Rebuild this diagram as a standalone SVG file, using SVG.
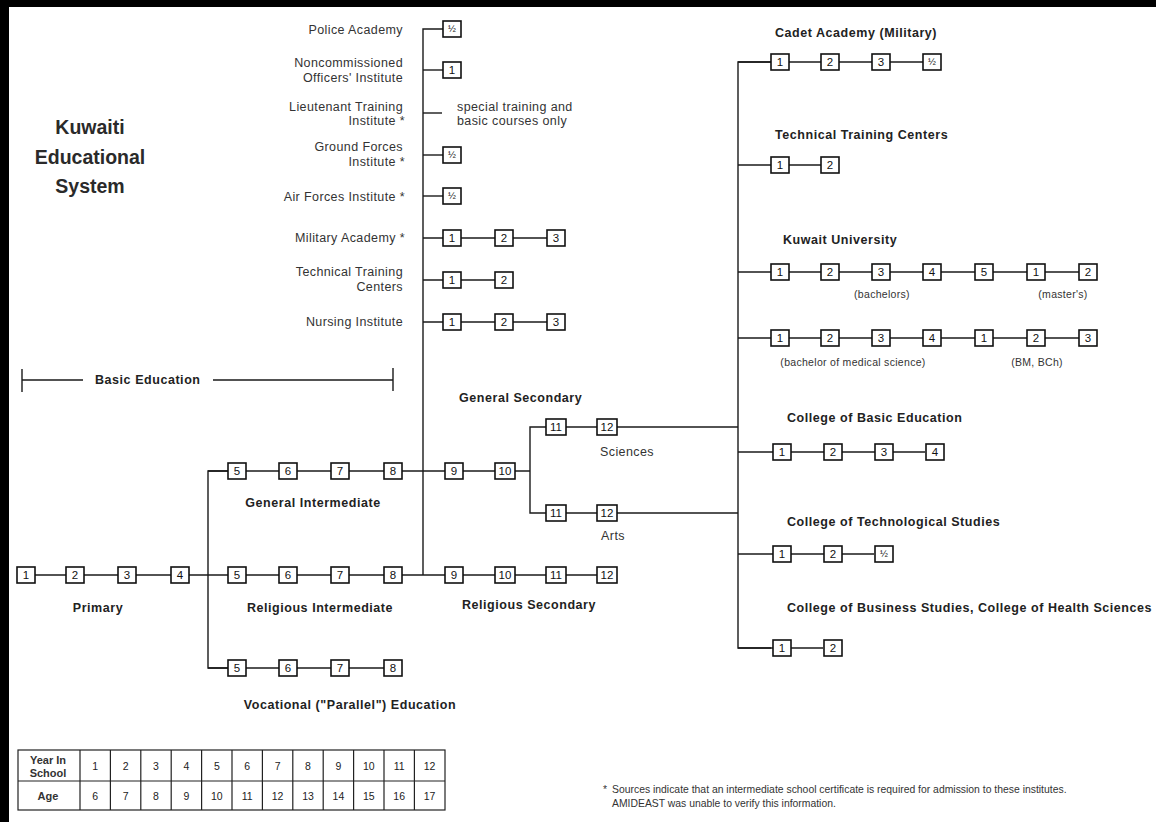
<svg xmlns="http://www.w3.org/2000/svg" width="1156" height="822" viewBox="0 0 1156 822">
<style>
.bg{fill:#fff}
.frame{fill:#000}
.ln{stroke:#1a1a1a;stroke-width:1.4;fill:none}
.box rect{fill:#fff;stroke:#111;stroke-width:1.6}
.box text{font-family:"Liberation Sans",Arial,sans-serif;font-size:11.5px;fill:#111;text-anchor:middle}
.box text.h{font-size:9.5px}
.lbl{font-family:"Liberation Sans",Arial,sans-serif;font-size:12.5px;fill:#333;letter-spacing:0.4px}
.r{text-anchor:end}
.c{text-anchor:middle}
.bl{font-family:"Liberation Sans",Arial,sans-serif;font-size:12.5px;font-weight:bold;fill:#222;letter-spacing:0.55px}
.sm{font-family:"Liberation Sans",Arial,sans-serif;font-size:10.5px;fill:#333;letter-spacing:0.3px}
.title{font-family:"Liberation Sans",Arial,sans-serif;font-size:19.5px;font-weight:bold;fill:#2a2a2a;text-anchor:middle}
.tb{stroke:#222;stroke-width:1.2;fill:none}
.tt{font-family:"Liberation Sans",Arial,sans-serif;font-size:10.5px;fill:#222;text-anchor:middle}
.tth{font-family:"Liberation Sans",Arial,sans-serif;font-size:11px;font-weight:bold;fill:#333;text-anchor:middle}
.fn{font-family:"Liberation Sans",Arial,sans-serif;font-size:10.4px;fill:#333}
</style>
<rect class="bg" x="0" y="0" width="1156" height="822"/>
<rect class="frame" x="0" y="0" width="1156" height="7"/>
<rect class="frame" x="0" y="0" width="9" height="822"/>

<g id="title">
<text class="title" x="90" y="134">Kuwaiti</text>
<text class="title" x="90" y="164">Educational</text>
<text class="title" x="90" y="193">System</text>
</g>

<g id="connectors">
<path class="ln" d="M35,575 H597"/>
<path class="ln" d="M228,471 H208 V668 H228"/>
<path class="ln" d="M208,471 H530"/>
<path class="ln" d="M208,668 H384"/>
<path class="ln" d="M443,29 H423 V575"/>
<path class="ln" d="M423,70 H443"/>
<path class="ln" d="M423,113 H442"/>
<path class="ln" d="M423,155 H443"/>
<path class="ln" d="M423,196 H443"/>
<path class="ln" d="M423,238 H547"/>
<path class="ln" d="M423,280 H495"/>
<path class="ln" d="M423,322 H547"/>
<path class="ln" d="M546,427 H530 V513 H546"/>
<path class="ln" d="M546,427 H738"/>
<path class="ln" d="M546,513 H738"/>
<path class="ln" d="M771,62 H738 V648 H771"/>
<path class="ln" d="M738,62 H923"/>
<path class="ln" d="M738,165 H821"/>
<path class="ln" d="M738,272 H1079"/>
<path class="ln" d="M738,338 H1079"/>
<path class="ln" d="M738,452 H925"/>
<path class="ln" d="M738,554 H874"/>
<path class="ln" d="M738,648 H823"/>
<path class="ln" d="M22,380 H83 M213,380 H393 M22,369 V392 M393,368 V391"/>
</g>

<g id="basic-education"><text class="bl" x="95" y="384">Basic Education</text></g>

<!-- Primary -->
<g id="primary-1" class="box"><rect x="17" y="567" width="18" height="16"/><text x="26" y="579">1</text></g>
<g id="primary-2" class="box"><rect x="66" y="567" width="18" height="16"/><text x="75" y="579">2</text></g>
<g id="primary-3" class="box"><rect x="118" y="567" width="18" height="16"/><text x="127" y="579">3</text></g>
<g id="primary-4" class="box"><rect x="171" y="567" width="18" height="16"/><text x="180" y="579">4</text></g>
<g id="primary-label"><text class="bl c" x="98" y="612">Primary</text></g>

<!-- General Intermediate -->
<g id="genint-5" class="box"><rect x="228" y="463" width="18" height="16"/><text x="237" y="475">5</text></g>
<g id="genint-6" class="box"><rect x="279" y="463" width="18" height="16"/><text x="288" y="475">6</text></g>
<g id="genint-7" class="box"><rect x="331" y="463" width="18" height="16"/><text x="340" y="475">7</text></g>
<g id="genint-8" class="box"><rect x="384" y="463" width="18" height="16"/><text x="393" y="475">8</text></g>
<g id="genint-label"><text class="bl c" x="313" y="507">General Intermediate</text></g>

<!-- Religious Intermediate -->
<g id="relint-5" class="box"><rect x="228" y="567" width="18" height="16"/><text x="237" y="579">5</text></g>
<g id="relint-6" class="box"><rect x="279" y="567" width="18" height="16"/><text x="288" y="579">6</text></g>
<g id="relint-7" class="box"><rect x="331" y="567" width="18" height="16"/><text x="340" y="579">7</text></g>
<g id="relint-8" class="box"><rect x="384" y="567" width="18" height="16"/><text x="393" y="579">8</text></g>
<g id="relint-label"><text class="bl c" x="320" y="612">Religious Intermediate</text></g>

<!-- Vocational -->
<g id="voc-5" class="box"><rect x="228" y="660" width="18" height="16"/><text x="237" y="672">5</text></g>
<g id="voc-6" class="box"><rect x="279" y="660" width="18" height="16"/><text x="288" y="672">6</text></g>
<g id="voc-7" class="box"><rect x="331" y="660" width="18" height="16"/><text x="340" y="672">7</text></g>
<g id="voc-8" class="box"><rect x="384" y="660" width="18" height="16"/><text x="393" y="672">8</text></g>
<g id="voc-label"><text class="bl c" x="350" y="709">Vocational ("Parallel") Education</text></g>

<!-- General Secondary -->
<g id="gensec-label"><text class="bl" x="459" y="402">General Secondary</text></g>
<g id="gensec-9" class="box"><rect x="445" y="463" width="18" height="16"/><text x="454" y="475">9</text></g>
<g id="gensec-10" class="box"><rect x="495" y="463" width="20" height="16"/><text x="505" y="475">10</text></g>
<g id="sci-11" class="box"><rect x="546" y="419" width="20" height="16"/><text x="556" y="431">11</text></g>
<g id="sci-12" class="box"><rect x="597" y="419" width="20" height="16"/><text x="607" y="431">12</text></g>
<g id="sci-label"><text class="lbl c" x="627" y="456">Sciences</text></g>
<g id="arts-11" class="box"><rect x="546" y="505" width="20" height="16"/><text x="556" y="517">11</text></g>
<g id="arts-12" class="box"><rect x="597" y="505" width="20" height="16"/><text x="607" y="517">12</text></g>
<g id="arts-label"><text class="lbl c" x="613" y="540">Arts</text></g>

<!-- Religious Secondary -->
<g id="relsec-9" class="box"><rect x="445" y="567" width="18" height="16"/><text x="454" y="579">9</text></g>
<g id="relsec-10" class="box"><rect x="495" y="567" width="20" height="16"/><text x="505" y="579">10</text></g>
<g id="relsec-11" class="box"><rect x="546" y="567" width="20" height="16"/><text x="556" y="579">11</text></g>
<g id="relsec-12" class="box"><rect x="597" y="567" width="20" height="16"/><text x="607" y="579">12</text></g>
<g id="relsec-label"><text class="bl c" x="529" y="609">Religious Secondary</text></g>

<!-- Post-intermediate institutes -->
<g id="police"><text class="lbl r" x="403" y="34">Police Academy</text></g>
<g id="police-h" class="box"><rect x="443" y="21" width="18" height="16"/><text class="h" x="452" y="32">½</text></g>
<g id="nco"><text class="lbl r" x="403" y="67">Noncommissioned</text><text class="lbl r" x="403" y="82">Officers' Institute</text></g>
<g id="nco-1" class="box"><rect x="443" y="62" width="18" height="16"/><text x="452" y="74">1</text></g>
<g id="lieutenant"><text class="lbl r" x="403" y="111">Lieutenant Training</text><text class="lbl r" x="405" y="125">Institute *</text></g>
<g id="lieutenant-note"><text class="lbl" x="457" y="111">special training and</text><text class="lbl" x="457" y="125">basic courses only</text></g>
<g id="ground"><text class="lbl r" x="403" y="151">Ground Forces</text><text class="lbl r" x="405" y="166">Institute *</text></g>
<g id="ground-h" class="box"><rect x="443" y="147" width="18" height="16"/><text class="h" x="452" y="158">½</text></g>
<g id="air"><text class="lbl r" x="405" y="201">Air Forces Institute *</text></g>
<g id="air-h" class="box"><rect x="443" y="188" width="18" height="16"/><text class="h" x="452" y="199">½</text></g>
<g id="military"><text class="lbl r" x="405" y="242">Military Academy *</text></g>
<g id="mil-1" class="box"><rect x="443" y="230" width="18" height="16"/><text x="452" y="242">1</text></g>
<g id="mil-2" class="box"><rect x="495" y="230" width="18" height="16"/><text x="504" y="242">2</text></g>
<g id="mil-3" class="box"><rect x="547" y="230" width="18" height="16"/><text x="556" y="242">3</text></g>
<g id="ttc"><text class="lbl r" x="403" y="276">Technical Training</text><text class="lbl r" x="403" y="291">Centers</text></g>
<g id="ttc-1" class="box"><rect x="443" y="272" width="18" height="16"/><text x="452" y="284">1</text></g>
<g id="ttc-2" class="box"><rect x="495" y="272" width="18" height="16"/><text x="504" y="284">2</text></g>
<g id="nursing"><text class="lbl r" x="403" y="326">Nursing Institute</text></g>
<g id="nur-1" class="box"><rect x="443" y="314" width="18" height="16"/><text x="452" y="326">1</text></g>
<g id="nur-2" class="box"><rect x="495" y="314" width="18" height="16"/><text x="504" y="326">2</text></g>
<g id="nur-3" class="box"><rect x="547" y="314" width="18" height="16"/><text x="556" y="326">3</text></g>

<!-- Post-secondary -->
<g id="cadet"><text class="bl" x="775" y="37">Cadet Academy (Military)</text></g>
<g id="cadet-1" class="box"><rect x="771" y="54" width="18" height="16"/><text x="780" y="66">1</text></g>
<g id="cadet-2" class="box"><rect x="821" y="54" width="18" height="16"/><text x="830" y="66">2</text></g>
<g id="cadet-3" class="box"><rect x="872" y="54" width="18" height="16"/><text x="881" y="66">3</text></g>
<g id="cadet-h" class="box"><rect x="923" y="54" width="18" height="16"/><text class="h" x="932" y="65">½</text></g>

<g id="rttc"><text class="bl" x="775" y="139">Technical Training Centers</text></g>
<g id="rttc-1" class="box"><rect x="771" y="157" width="18" height="16"/><text x="780" y="169">1</text></g>
<g id="rttc-2" class="box"><rect x="821" y="157" width="18" height="16"/><text x="830" y="169">2</text></g>

<g id="ku"><text class="bl" x="783" y="244">Kuwait University</text></g>
<g id="ku-a1" class="box"><rect x="771" y="264" width="18" height="16"/><text x="780" y="276">1</text></g>
<g id="ku-a2" class="box"><rect x="821" y="264" width="18" height="16"/><text x="830" y="276">2</text></g>
<g id="ku-a3" class="box"><rect x="872" y="264" width="18" height="16"/><text x="881" y="276">3</text></g>
<g id="ku-a4" class="box"><rect x="923" y="264" width="18" height="16"/><text x="932" y="276">4</text></g>
<g id="ku-a5" class="box"><rect x="975" y="264" width="18" height="16"/><text x="984" y="276">5</text></g>
<g id="ku-m1" class="box"><rect x="1027" y="264" width="18" height="16"/><text x="1036" y="276">1</text></g>
<g id="ku-m2" class="box"><rect x="1079" y="264" width="18" height="16"/><text x="1088" y="276">2</text></g>
<g id="ku-bach"><text class="sm c" x="882" y="298">(bachelors)</text></g>
<g id="ku-mast"><text class="sm c" x="1063" y="298">(master's)</text></g>
<g id="ku-b1" class="box"><rect x="771" y="330" width="18" height="16"/><text x="780" y="342">1</text></g>
<g id="ku-b2" class="box"><rect x="821" y="330" width="18" height="16"/><text x="830" y="342">2</text></g>
<g id="ku-b3" class="box"><rect x="872" y="330" width="18" height="16"/><text x="881" y="342">3</text></g>
<g id="ku-b4" class="box"><rect x="923" y="330" width="18" height="16"/><text x="932" y="342">4</text></g>
<g id="ku-c1" class="box"><rect x="975" y="330" width="18" height="16"/><text x="984" y="342">1</text></g>
<g id="ku-c2" class="box"><rect x="1027" y="330" width="18" height="16"/><text x="1036" y="342">2</text></g>
<g id="ku-c3" class="box"><rect x="1079" y="330" width="18" height="16"/><text x="1088" y="342">3</text></g>
<g id="ku-bms"><text class="sm c" x="853" y="366">(bachelor of medical science)</text></g>
<g id="ku-bmbch"><text class="sm c" x="1037" y="366">(BM, BCh)</text></g>

<g id="cbe"><text class="bl" x="787" y="422">College of Basic Education</text></g>
<g id="cbe-1" class="box"><rect x="773" y="444" width="18" height="16"/><text x="782" y="456">1</text></g>
<g id="cbe-2" class="box"><rect x="824" y="444" width="18" height="16"/><text x="833" y="456">2</text></g>
<g id="cbe-3" class="box"><rect x="875" y="444" width="18" height="16"/><text x="884" y="456">3</text></g>
<g id="cbe-4" class="box"><rect x="926" y="444" width="18" height="16"/><text x="935" y="456">4</text></g>

<g id="cts"><text class="bl" x="787" y="526">College of Technological Studies</text></g>
<g id="cts-1" class="box"><rect x="773" y="546" width="18" height="16"/><text x="782" y="558">1</text></g>
<g id="cts-2" class="box"><rect x="824" y="546" width="18" height="16"/><text x="833" y="558">2</text></g>
<g id="cts-h" class="box"><rect x="875" y="546" width="18" height="16"/><text class="h" x="884" y="557">½</text></g>

<g id="cbs"><text class="bl" x="787" y="612">College of Business Studies, College of Health Sciences</text></g>
<g id="cbs-1" class="box"><rect x="773" y="640" width="18" height="16"/><text x="782" y="652">1</text></g>
<g id="cbs-2" class="box"><rect x="824" y="640" width="18" height="16"/><text x="833" y="652">2</text></g>

<!-- Table -->
<g id="age-table">
<rect class="tb" x="18" y="750" width="427" height="60"/>
<path class="tb" d="M18,781 H445 M80,750 V810 M110.4,750 V810 M140.8,750 V810 M171.2,750 V810 M201.6,750 V810 M232,750 V810 M262.4,750 V810 M292.8,750 V810 M323.2,750 V810 M353.6,750 V810 M384,750 V810 M414.4,750 V810"/>
<text class="tth" x="48" y="764">Year In</text>
<text class="tth" x="48" y="777">School</text>
<text class="tth" x="48" y="800">Age</text>
<text class="tt" x="95.2" y="770">1</text><text class="tt" x="125.6" y="770">2</text><text class="tt" x="156" y="770">3</text><text class="tt" x="186.4" y="770">4</text><text class="tt" x="216.8" y="770">5</text><text class="tt" x="247.2" y="770">6</text><text class="tt" x="277.6" y="770">7</text><text class="tt" x="308" y="770">8</text><text class="tt" x="338.4" y="770">9</text><text class="tt" x="368.8" y="770">10</text><text class="tt" x="399.2" y="770">11</text><text class="tt" x="429.6" y="770">12</text>
<text class="tt" x="95.2" y="800">6</text><text class="tt" x="125.6" y="800">7</text><text class="tt" x="156" y="800">8</text><text class="tt" x="186.4" y="800">9</text><text class="tt" x="216.8" y="800">10</text><text class="tt" x="247.2" y="800">11</text><text class="tt" x="277.6" y="800">12</text><text class="tt" x="308" y="800">13</text><text class="tt" x="338.4" y="800">14</text><text class="tt" x="368.8" y="800">15</text><text class="tt" x="399.2" y="800">16</text><text class="tt" x="429.6" y="800">17</text>
</g>

<g id="footnote">
<text class="fn" x="603" y="793">*</text>
<text class="fn" x="612" y="793">Sources indicate that an intermediate school certificate is required for admission to these institutes.</text>
<text class="fn" x="612" y="807">AMIDEAST was unable to verify this information.</text>
</g>
</svg>
